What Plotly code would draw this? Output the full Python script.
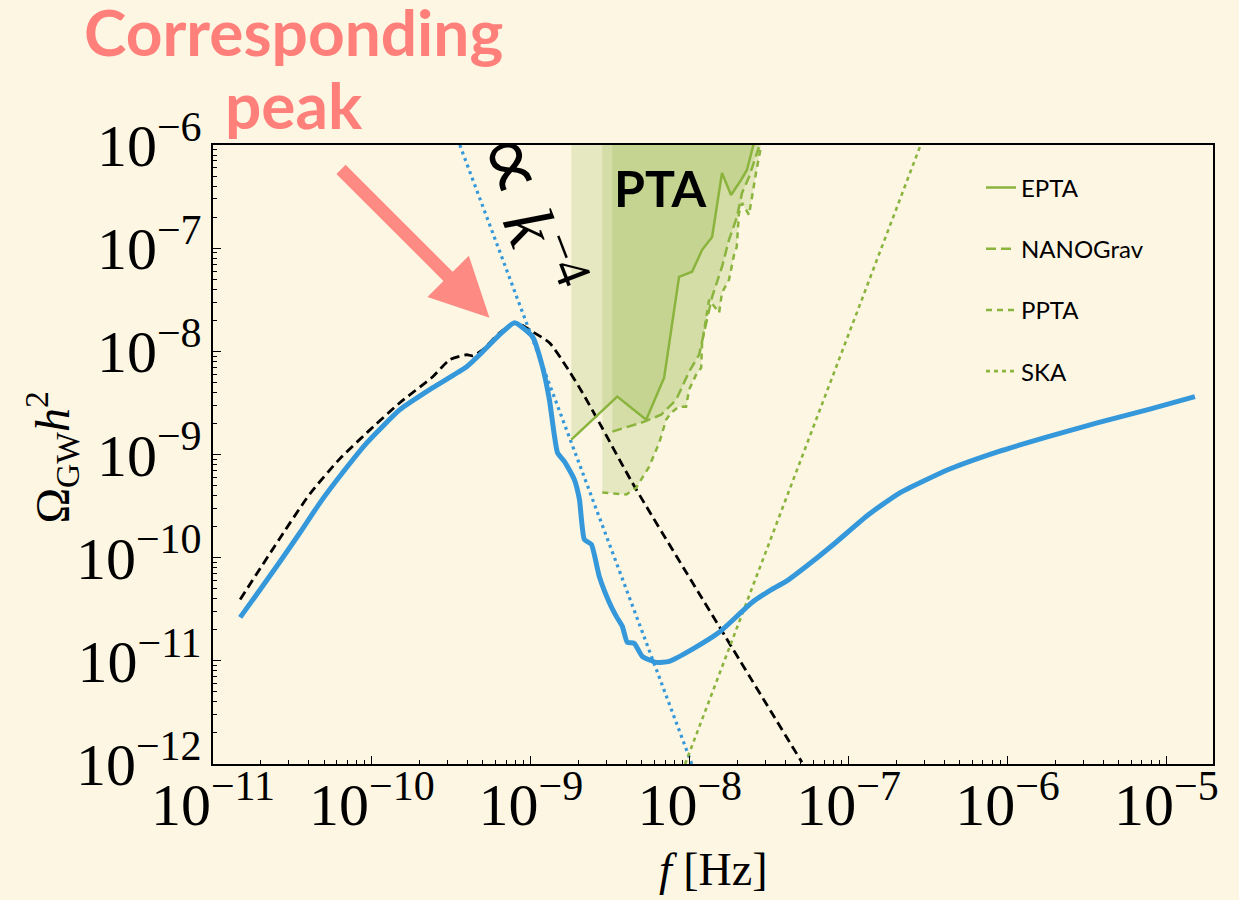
import plotly.graph_objects as go

# ---------------- data (log10 values) ----------------
# Induced GW spectrum (thick blue)
spec_logf = [-10.829, -10.703, -10.578, -10.452, -10.326, -10.169, -10.031, -9.824, -9.617, -9.404,
             -9.303, -9.196, -9.102, -8.989, -8.927, -8.883, -8.832, -8.788, -8.726, -8.694,
             -8.663, -8.619, -8.569, -8.506, -8.462, -8.424, -8.393, -8.349, -8.299, -8.211,
             -8.129, -7.985, -7.815, -7.608, -7.483, -7.394, -7.188, -7.081, -6.874, -6.685,
             -6.372, -6.058, -5.744, -5.430, -5.116, -4.821]
spec_logO = [-10.579, -10.308, -10.037, -9.756, -9.466, -9.146, -8.885, -8.565, -8.352, -8.149,
             -8.004, -7.839, -7.723, -7.859, -8.149, -8.469, -8.982, -9.069, -9.243, -9.437,
             -9.824, -9.872, -10.182, -10.434, -10.569, -10.666, -10.821, -10.830, -10.956, -11.015,
             -11.005, -10.889, -10.724, -10.434, -10.308, -10.230, -9.988, -9.853, -9.582, -9.379,
             -9.146, -8.972, -8.827, -8.691, -8.565, -8.439]

# Black dashed template spectrum
tmpl_logf = [-10.829, -10.609, -10.389, -10.201, -10.031, -9.824, -9.617, -9.510, -9.404, -9.366,
             -9.303, -9.196, -9.090, -8.989, -8.883, -8.776, -8.675, -8.569, -8.362, -7.815, -7.294]
tmpl_logO = [-10.405, -9.882, -9.379, -9.040, -8.788, -8.498, -8.246, -8.081, -8.033, -8.043,
             -7.985, -7.820, -7.723, -7.810, -7.917, -8.149, -8.401, -8.691, -9.272, -10.666, -11.983]

# k^-4 guide (blue dotted)
k4_logf = [-9.447, -7.987]
k4_logO = [-6.0, -12.0]

# SKA sensitivity (green dotted)
ska_logf = [-8.029, -6.547]
ska_logO = [-12.0, -6.0]

# EPTA
epta_logf = [-8.745, -8.456, -8.274, -8.161, -8.067, -7.985, -7.922, -7.859, -7.797, -7.740,
             -7.677, -7.640, -7.596]
epta_logO = [-8.856, -8.439, -8.662, -8.256, -7.278, -7.229, -7.016, -6.891, -6.271, -6.484,
             -6.339, -6.242, -5.980]

# NANOGrav
nano_logf = [-8.487, -8.286, -8.180, -8.085, -8.004, -7.941, -7.910, -7.859, -7.797, -7.753,
             -7.703, -7.671, -7.627, -7.564]
nano_logO = [-8.778, -8.682, -8.614, -8.469, -8.197, -8.033, -7.820, -7.471, -7.181, -6.920,
             -6.697, -6.465, -6.310, -6.019]

# PPTA
ppta_logf = [-8.550, -8.399, -8.336, -8.255, -8.192, -8.148, -8.117, -8.067, -8.023, -8.004,
             -7.960, -7.928, -7.922, -7.898, -7.878, -7.815, -7.797, -7.753, -7.721, -7.704,
             -7.690, -7.677, -7.671, -7.627, -7.615, -7.583, -7.552]
ppta_logO = [-9.369, -9.388, -9.320, -9.117, -8.885, -8.662, -8.594, -8.536, -8.536, -8.372,
             -8.227, -8.159, -7.917, -7.694, -7.500, -7.626, -7.433, -7.307, -7.065, -6.987,
             -6.658, -6.610, -6.561, -6.678, -6.561, -6.271, -6.019]

legend_names = ["EPTA", "NANOGrav", "PPTA", "SKA"]
x_range_log = [-11, -4.707]
y_range_log = [-12, -6]
omega_top = 1e-6

# ---------------- styling ----------------
BG = "#fdf6e3"
GREEN = "#8ab43e"
GREEN_FILL = "rgba(138,180,62,0.2)"
BLUE = "#3498db"
SALMON = "#ff7f7a"
SERIF = "Liberation Serif"
SANS = "Lato"


def lin(vals):
    return [10 ** v for v in vals]


fig = go.Figure()

# PTA shaded regions (area above each sensitivity curve)
for lf, lo in [(epta_logf, epta_logO), (ppta_logf, ppta_logO), (nano_logf, nano_logO)]:
    xs = lin(lf) + [10 ** lf[-1], 10 ** lf[0]]
    ys = lin(lo) + [omega_top, omega_top]
    fig.add_trace(go.Scatter(x=xs, y=ys, mode="lines", fill="toself", fillcolor=GREEN_FILL,
                             line=dict(width=0), showlegend=False, hoverinfo="skip"))

# template (black dashed)
fig.add_trace(go.Scatter(x=lin(tmpl_logf), y=lin(tmpl_logO), mode="lines",
                         line=dict(color="black", width=2.8, dash="9px,5px", shape="spline",
                                   smoothing=0.6),
                         showlegend=False))
# k^-4 guide
fig.add_trace(go.Scatter(x=lin(k4_logf), y=lin(k4_logO), mode="lines",
                         line=dict(color=BLUE, width=3.2, dash="3px,4px"), showlegend=False))

# PTA curves
fig.add_trace(go.Scatter(x=lin(epta_logf), y=lin(epta_logO), mode="lines", name=legend_names[0],
                         legendgroup="a", line=dict(color=GREEN, width=2.5)))
fig.add_trace(go.Scatter(x=lin(nano_logf), y=lin(nano_logO), mode="lines", name=legend_names[1],
                         legendgroup="b", line=dict(color=GREEN, width=2.5, dash="10px,5px")))
fig.add_trace(go.Scatter(x=lin(ppta_logf), y=lin(ppta_logO), mode="lines", name=legend_names[2],
                         legendgroup="c", line=dict(color=GREEN, width=2.5, dash="6px,5px")))
fig.add_trace(go.Scatter(x=lin(ska_logf), y=lin(ska_logO), mode="lines", name=legend_names[3],
                         legendgroup="d", line=dict(color=GREEN, width=2.6, dash="4px,4px")))

# induced spectrum
fig.add_trace(go.Scatter(x=lin(spec_logf), y=lin(spec_logO), mode="lines",
                         line=dict(color=BLUE, width=5, shape="spline", smoothing=0.5),
                         showlegend=False))

axis_common = dict(
    type="log", showgrid=False, zeroline=False, showline=True, linecolor="black", linewidth=1.6,
    mirror=True, ticks="inside", ticklen=8, tickwidth=1.3, tickcolor="black", dtick=1,
    exponentformat="power", showexponent="all", automargin=False,
    tickfont=dict(family=SERIF, size=48, color="black"),
    minor=dict(ticks="inside", ticklen=4, tickwidth=1, tickcolor="black", showgrid=False),
)

fig.update_layout(
    width=1239, height=900,
    margin=dict(l=213, r=26, t=145, b=136),
    paper_bgcolor=BG, plot_bgcolor=BG,
    xaxis=dict(range=x_range_log, ticklabelstandoff=-10, **axis_common),
    yaxis=dict(range=y_range_log, **axis_common),
    legend=dict(x=0.768, y=0.967, xanchor="left", yanchor="top", bgcolor="rgba(0,0,0,0)",
                font=dict(family=SANS, size=24, color="black"), tracegroupgap=27,
                traceorder="grouped"),
    showlegend=True,
)

# axis titles
fig.add_annotation(xref="paper", yref="paper", x=0.5, y=-0.17, xanchor="center", yanchor="middle",
                   text="<i>f</i> [Hz]", showarrow=False,
                   font=dict(family=SERIF, size=46, color="black"))
fig.add_annotation(xref="paper", yref="paper", x=-0.161, y=0.495, xanchor="center", yanchor="middle",
                   text="Ω<sub>GW</sub><i>h</i><sup>2</sup>", showarrow=False, textangle=-90,
                   font=dict(family=SERIF, size=48, color="black"))

# text annotations
fig.add_annotation(xref="paper", yref="paper", x=0.08, y=1.2488, xanchor="center", yanchor="top",
                   text="<b>Corresponding</b>", showarrow=False,
                   font=dict(family=SANS, size=64, color=SALMON))
fig.add_annotation(xref="paper", yref="paper", x=0.081, y=1.131, xanchor="center", yanchor="top",
                   text="<b>peak</b>", showarrow=False,
                   font=dict(family=SANS, size=64, color=SALMON))
fig.add_annotation(xref="paper", yref="paper", x=0.447, y=0.9305, xanchor="center", yanchor="middle",
                   text="<b>PTA</b>", showarrow=False, font=dict(family=SANS, size=50, color="black"))
fig.add_annotation(xref="paper", yref="paper", x=0.317, y=0.892, xanchor="center", yanchor="middle",
                   text="<span style='font-size:88px'>∝</span> <i>k</i><sup>−4</sup>",
                   showarrow=False, textangle=69,
                   font=dict(family=SERIF, size=72, color="black"))
# arrow pointing to the peak
fig.add_annotation(x=-9.26, y=-7.675, xref="x", yref="y", ax=-150, ay=-150, text="",
                   showarrow=True, arrowhead=2, arrowsize=0.9, arrowwidth=13,
                   arrowcolor=SALMON, opacity=0.9, standoff=0)

fig.write_html("out.html")
